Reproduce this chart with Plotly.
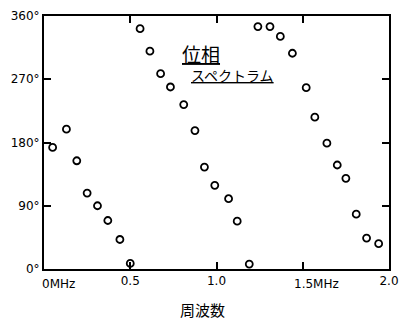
import plotly.graph_objects as go

freq_mhz = [0.05, 0.13, 0.19, 0.25, 0.31, 0.37, 0.44, 0.50,
            0.557, 0.614, 0.676, 0.733, 0.81, 0.875, 0.93, 0.99, 1.07, 1.12, 1.19,
            1.24, 1.31, 1.37, 1.44, 1.52, 1.57, 1.64, 1.70, 1.75, 1.81, 1.87, 1.94]
phase_deg = [173, 199, 154, 108, 90, 69, 42, 8,
             342, 310, 278, 259, 234, 197, 145, 119, 100, 68, 7,
             345, 345, 331, 307, 258, 216, 179, 148, 129, 78, 44, 36]

y_tickvals = [0, 90, 180, 270, 360]
y_ticktext = ["0°", "90°", "180°", "270°", "360°"]
x_tickvals = [0, 0.5, 1.0, 1.5, 2.0]
x_ticktext = ["", "0.5", "1.0", "", "2.0"]

fig = go.Figure()
fig.add_trace(go.Scatter(
    x=freq_mhz, y=phase_deg, mode="markers",
    marker=dict(symbol="circle-open", size=7, color="black", line=dict(width=1.8)),
    showlegend=False, cliponaxis=False))

font_main = "Noto Sans CJK JP, DejaVu Sans, sans-serif"
tick_font = dict(size=12, family="DejaVu Sans, sans-serif", color="black")
fig.update_layout(
    width=408, height=322,
    margin=dict(l=44, r=12, t=9, b=53),
    paper_bgcolor="white", plot_bgcolor="white",
    font=dict(family=font_main, color="black", size=12),
    xaxis=dict(range=[0, 2.0], tickvals=x_tickvals, ticktext=x_ticktext,
               ticks="inside", ticklen=7, tickwidth=1.5, tickcolor="black",
               showline=True, linewidth=2, linecolor="black", mirror="ticks",
               showgrid=False, zeroline=False, fixedrange=True,
               tickfont=tick_font),
    yaxis=dict(range=[0, 360], tickvals=y_tickvals, ticktext=y_ticktext,
               ticks="inside", ticklen=7, tickwidth=1.5, tickcolor="black",
               showline=True, linewidth=2, linecolor="black", mirror="ticks",
               showgrid=False, zeroline=False, fixedrange=True,
               tickfont=tick_font),
)

fig.add_annotation(x=0, y=0, xref="x", yref="paper", yanchor="top", xanchor="left",
                   xshift=-4, yshift=-6, showarrow=False, text="0MHz", font=tick_font)
fig.add_annotation(x=1.5, y=0, xref="x", yref="paper", yanchor="top", xanchor="left",
                   xshift=-11, yshift=-6, showarrow=False, text="1.5MHz", font=tick_font)
fig.add_annotation(x=0.46, y=0, xref="paper", yref="paper", yanchor="top",
                   yshift=-28, showarrow=False, text="周波数",
                   font=dict(size=15, family=font_main, color="black"))
fig.add_annotation(x=0.91, y=307, xref="x", yref="y", showarrow=False,
                   text="<u>位相</u>", font=dict(size=19, family=font_main, color="black"))
fig.add_annotation(x=1.09, y=276, xref="x", yref="y", showarrow=False,
                   text="<u>スペクトラム</u>", font=dict(size=14, family=font_main, color="black"))

fig.write_html("out.html", config={"displayModeBar": False},
               post_script="document.body.style.margin='0';document.body.style.padding='0';")
